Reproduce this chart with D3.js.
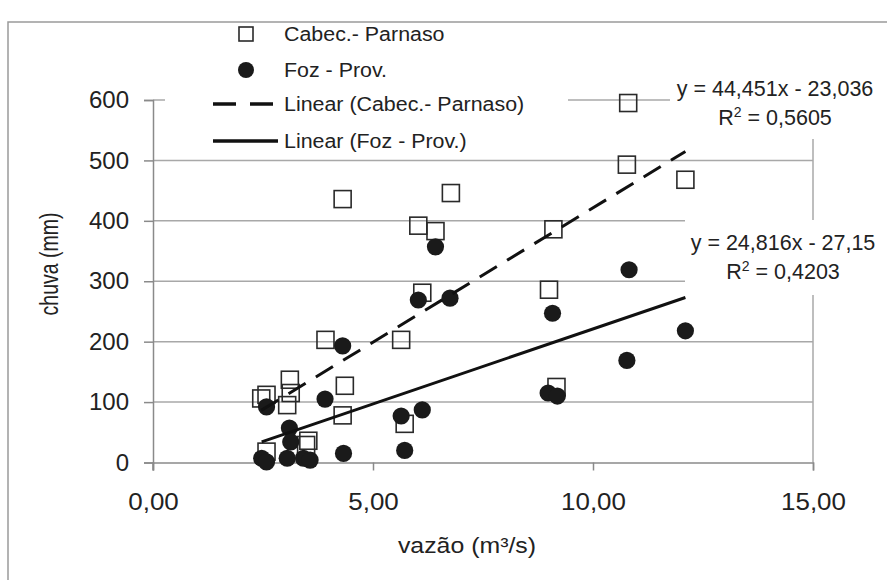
<!DOCTYPE html>
<html>
<head>
<meta charset="utf-8">
<script src="https://cdn.jsdelivr.net/npm/d3@7"></script>
<style>
  body { margin: 0; background: #fff; }
  svg text { font-family: "Liberation Sans", Arial, sans-serif; fill: #222; }
</style>
</head>
<body>
<div id="chart"></div>
<script>
// Cabec. - Parnaso (squares)
var cabecX = [4.31, 6.77, 6.03, 6.42, 6.12, 3.92, 5.64, 3.11, 2.58, 2.46, 3.13, 3.05,
              4.36, 4.31, 5.72, 3.53, 3.48, 2.58, 10.77, 12.1, 9.1, 9.0, 9.17, 10.8];
var cabecY = [436, 446, 392, 383, 281, 203, 203, 137, 112, 106, 115, 95,
              127, 78, 64, 36, 29, 18, 493, 468, 386, 286, 125, 595];
// Foz - Prov. (circles)
var fozX = [6.42, 6.03, 6.75, 4.31, 3.91, 2.58, 5.64, 6.12, 3.1, 3.13, 4.33, 5.72,
            2.47, 2.58, 3.05, 3.42, 3.57, 10.82, 9.08, 12.1, 10.77, 8.98, 9.19];
var fozY = [357, 269, 272, 193, 105, 92, 77, 87, 57, 34, 15, 20,
            7, 1, 7, 7, 4, 319, 247, 218, 169, 115, 110];

var seriesNames = ["Cabec.- Parnaso", "Foz - Prov."];
var slopes = [44.451, 24.816];
var intercepts = [-23.036, -27.15];
var r2 = [0.5605, 0.4203];

var xTicks = [0, 5, 10, 15];
var yTicks = [0, 100, 200, 300, 400, 500, 600];

var W = 887, H = 580;
var margin = {top: 100, left: 153, right: 74, bottom: 117.5};
var width = W - margin.left - margin.right,
    height = H - margin.top - margin.bottom;

var svg = d3.select("#chart").append("svg")
  .attr("width", W).attr("height", H);

// outer chart frame (runs off the right and bottom edge)
svg.append("rect")
  .attr("x", 8).attr("y", 22).attr("width", 1000).attr("height", 1000)
  .attr("fill", "none").attr("stroke", "#9a9a9a").attr("stroke-width", 1.5);

var g = svg.append("g")
  .attr("transform", "translate(" + margin.left + "," + margin.top + ")");

var x = d3.scaleLinear().domain([0, 15]).range([0, width]);
var y = d3.scaleLinear().domain([0, 600]).range([height, 0]);

var comma = function(v) { return String(v).replace(".", ","); };

// gridlines
g.selectAll(".grid")
  .data(yTicks.slice(1))
  .enter().append("line")
  .attr("x1", 0).attr("x2", width)
  .attr("y1", function(d) { return y(d); })
  .attr("y2", function(d) { return y(d); })
  .attr("stroke", "#a8a8a8").attr("stroke-width", 1.5);

// right frame of plot area
g.append("line")
  .attr("x1", width).attr("x2", width).attr("y1", 0).attr("y2", height)
  .attr("stroke", "#a8a8a8").attr("stroke-width", 1.5);

// axes
var xAxis = g.append("g")
  .attr("transform", "translate(0," + height + ")")
  .call(d3.axisBottom(x).tickValues(xTicks).tickSize(8).tickPadding(22)
    .tickFormat(function(d) { return d3.format(".2f")(d).replace(".", ","); }));
var yAxis = g.append("g")
  .call(d3.axisLeft(y).tickValues(yTicks).tickSize(9).tickPadding(15));

[xAxis, yAxis].forEach(function(a) {
  a.select(".domain").attr("stroke", "#8a8a8a").attr("stroke-width", 1.5);
  a.selectAll(".tick line").attr("stroke", "#8a8a8a").attr("stroke-width", 1.5);
  a.selectAll("text").attr("font-size", 24).attr("fill", "#222")
    .style("font-family", "'Liberation Sans', Arial, sans-serif");
});
xAxis.selectAll("text").attr("transform", "scale(1.08,1)");
// let the y axis run down past the x axis like the tick marks
g.append("line").attr("x1", 0).attr("x2", 0).attr("y1", height).attr("y2", height + 8)
  .attr("stroke", "#8a8a8a").attr("stroke-width", 1.5);

// points
var cabec = cabecX.map(function(d, i) { return {x: d, y: cabecY[i]}; });
var foz = fozX.map(function(d, i) { return {x: d, y: fozY[i]}; });
var sq = 17;

g.selectAll(".sq")
  .data(cabec)
  .enter().append("rect")
  .attr("x", function(d) { return x(d.x) - sq / 2; })
  .attr("y", function(d) { return y(d.y) - sq / 2; })
  .attr("width", sq).attr("height", sq)
  .attr("fill", "none").attr("stroke", "#2a2a2a").attr("stroke-width", 1.6);

g.selectAll(".dot")
  .data(foz)
  .enter().append("circle")
  .attr("cx", function(d) { return x(d.x); })
  .attr("cy", function(d) { return y(d.y); })
  .attr("r", 8.6)
  .attr("fill", "#1a1a1a");

// trend lines from the fitted equations, over each series' x range
var line = d3.line().x(function(d) { return x(d[0]); }).y(function(d) { return y(d[1]); });
[cabecX, fozX].forEach(function(xs, i) {
  var ext = d3.extent(xs);
  var pts = ext.map(function(v) { return [v, slopes[i] * v + intercepts[i]]; });
  g.append("path")
    .attr("d", line(pts))
    .attr("fill", "none").attr("stroke", "#111").attr("stroke-width", 3)
    .attr("stroke-dasharray", i === 0 ? "20,12" : null);
});

// equation labels (white boxes cover grid, as in the original)
var eqBoxes = [{x: 670, y: 58, w: 240, h: 81, cx: 775, b: 96},
               {x: 685, y: 220, w: 220, h: 75, cx: 783, b: 250}];
eqBoxes.forEach(function(bx, i) {
  svg.append("rect").attr("x", bx.x).attr("y", bx.y).attr("width", bx.w).attr("height", bx.h)
    .attr("fill", "#fff");
  var sign = intercepts[i] < 0 ? " - " : " + ";
  svg.append("text")
    .attr("x", bx.cx).attr("y", bx.b)
    .attr("text-anchor", "middle").attr("font-size", 21.5)
    .text("y = " + comma(slopes[i]) + "x" + sign + comma(Math.abs(intercepts[i])));
  var t = svg.append("text")
    .attr("x", bx.cx).attr("y", bx.b + 29)
    .attr("text-anchor", "middle").attr("font-size", 21.5);
  t.append("tspan").text("R");
  t.append("tspan").attr("dy", -8).attr("font-size", 14).text("2");
  t.append("tspan").attr("dy", 8).text(" = " + comma(r2[i]));
});

// legend
svg.append("rect").attr("x", 165).attr("y", 23).attr("width", 403).attr("height", 136)
  .attr("fill", "#fff");
var legRows = [34, 70, 104, 141];
var legText = [seriesNames[0], seriesNames[1],
               "Linear (" + seriesNames[0] + ")", "Linear (" + seriesNames[1] + ")"];
svg.append("rect").attr("x", 239).attr("y", legRows[0] - 7).attr("width", 14).attr("height", 14)
  .attr("fill", "none").attr("stroke", "#2a2a2a").attr("stroke-width", 1.6);
svg.append("circle").attr("cx", 246).attr("cy", legRows[1]).attr("r", 8).attr("fill", "#1a1a1a");
svg.append("line").attr("x1", 213).attr("x2", 276).attr("y1", legRows[2]).attr("y2", legRows[2])
  .attr("stroke", "#111").attr("stroke-width", 3.5).attr("stroke-dasharray", "23,14");
svg.append("line").attr("x1", 213).attr("x2", 278).attr("y1", legRows[3]).attr("y2", legRows[3])
  .attr("stroke", "#111").attr("stroke-width", 3.5);
legText.forEach(function(s, i) {
  svg.append("text")
    .attr("transform", "translate(284," + (legRows[i] + 7) + ") scale(1.07,1)")
    .attr("font-size", 20)
    .text(s);
});

// axis titles
svg.append("text")
  .attr("transform", "translate(467,553) scale(1.13,1)")
  .attr("text-anchor", "middle").attr("font-size", 22)
  .text("vazão (m³/s)");
svg.append("text")
  .attr("transform", "translate(58,264) rotate(-90) scale(0.75,1)")
  .attr("text-anchor", "middle").attr("font-size", 26)
  .text("chuva (mm)");
</script>
</body>
</html>
